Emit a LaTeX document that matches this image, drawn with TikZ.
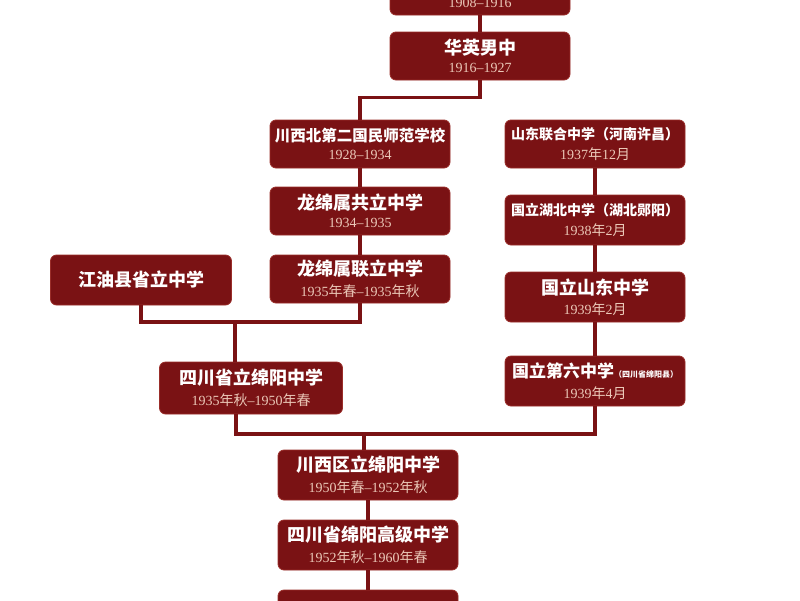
\documentclass[tikz,border=0pt]{standalone}
\usepackage{fontspec}
\setmainfont{Liberation Serif}
\newfontfamily\cjk{Noto Sans CJK SC}
\definecolor{boxred}{HTML}{7A1214}
\definecolor{boxedge}{HTML}{9A2E2A}
\definecolor{linered}{HTML}{7A1214}
\definecolor{yearc}{HTML}{EBC8B8}
\newcommand\ttl[2][18pt]{{\fontsize{#1}{#1}\selectfont\cjk\bfseries\color{white}#2}}
\newcommand\cn[1]{{\cjk #1}}
\newcommand\yr[1]{{\fontsize{14pt}{14pt}\selectfont\color{yearc}#1}}
\tikzset{
  box/.style={rounded corners=6pt, fill=boxred, draw=boxedge, line width=0.8pt,
    minimum width=180pt, minimum height=48pt, align=center, inner sep=0pt},
  conn/.style={draw=linered, line width=3.2pt},
}
\begin{document}
\begin{tikzpicture}[x=1pt,y=-1pt]
\fill[white] (0,0) rectangle (800,600);
\useasboundingbox (0,0) rectangle (800,600);
\coordinate (j1) at (235,322);
\coordinate (j2) at (364,434);
\coordinate (j3) at (236,434);
\node[box] (b0) at (480,-9) {\ttl{\phantom{华英男中}}\\[6pt]\yr{1908--1916}};
\node[box] (b1) at (480,56) {\ttl{华英男中}\\[6pt]\yr{1916--1927}};
\node[box] (c1) at (360,144) {\ttl[15.5pt]{川西北第二国民师范学校}\\[6pt]\yr{1928--1934}};
\node[box] (c2) at (360,211) {\ttl{龙绵属共立中学}\\[6pt]\yr{1934--1935}};
\node[box] (c3) at (360,279) {\ttl{龙绵属联立中学}\\[6pt]\yr{1935\cn{年春}--1935\cn{年秋}}};
\node[box, minimum width=181pt, minimum height=50pt] (jy) at (141,280) {\ttl{江油县省立中学}};
\node[box, minimum width=183pt, minimum height=52pt] (d1) at (251,388) {\ttl{四川省立绵阳中学}\\[6pt]\yr{1935\cn{年秋}--1950\cn{年春}}};
\node[box] (r1) at (595,144) {\ttl[14pt]{山东联合中学（河南许昌）}\\[6pt]\yr{1937\cn{年}12\cn{月}}};
\node[box, minimum height=50pt] (r2) at (595,220) {\ttl[14pt]{国立湖北中学（湖北郧阳）}\\[6pt]\yr{1938\cn{年}2\cn{月}}};
\node[box, minimum height=50pt] (r3) at (595,297) {\ttl{国立山东中学}\\[6pt]\yr{1939\cn{年}2\cn{月}}};
\node[box, minimum height=50pt] (r4) at (595,381) {\ttl[17pt]{国立第六中学}\ttl[8pt]{（四川省绵阳县）}\\[6pt]\yr{1939\cn{年}4\cn{月}}};
\node[box, minimum height=50pt] (e1) at (368,475) {\ttl{川西区立绵阳中学}\\[6pt]\yr{1950\cn{年春}--1952\cn{年秋}}};
\node[box, minimum height=50pt] (e2) at (368,545) {\ttl{四川省绵阳高级中学}\\[6pt]\yr{1952\cn{年秋}--1960\cn{年春}}};
\node[box] (e3) at (368,614) {};
\path[conn] (b0.south) -- (b1.north);
\path[conn] (b1.south) -- ++(0,17) -| (c1.north);
\path[conn] (c1) -- (c2);
\path[conn] (c2) -- (c3);
\path[conn] (jy.south) |- (j1) -| (c3.south);
\path[conn] (j1) -- (j1 |- d1.north);
\path[conn] (r1) -- (r2);
\path[conn] (r2) -- (r3);
\path[conn] (r3) -- (r4);
\path[conn] (j3 |- d1.south) -- (j3) -- (j2);
\path[conn] (j2) -| (r4.south);
\path[conn] (j2) -- (j2 |- e1.north);
\path[conn] (e1) -- (e2);
\path[conn] (e2) -- (e3);
\end{tikzpicture}
\end{document}
